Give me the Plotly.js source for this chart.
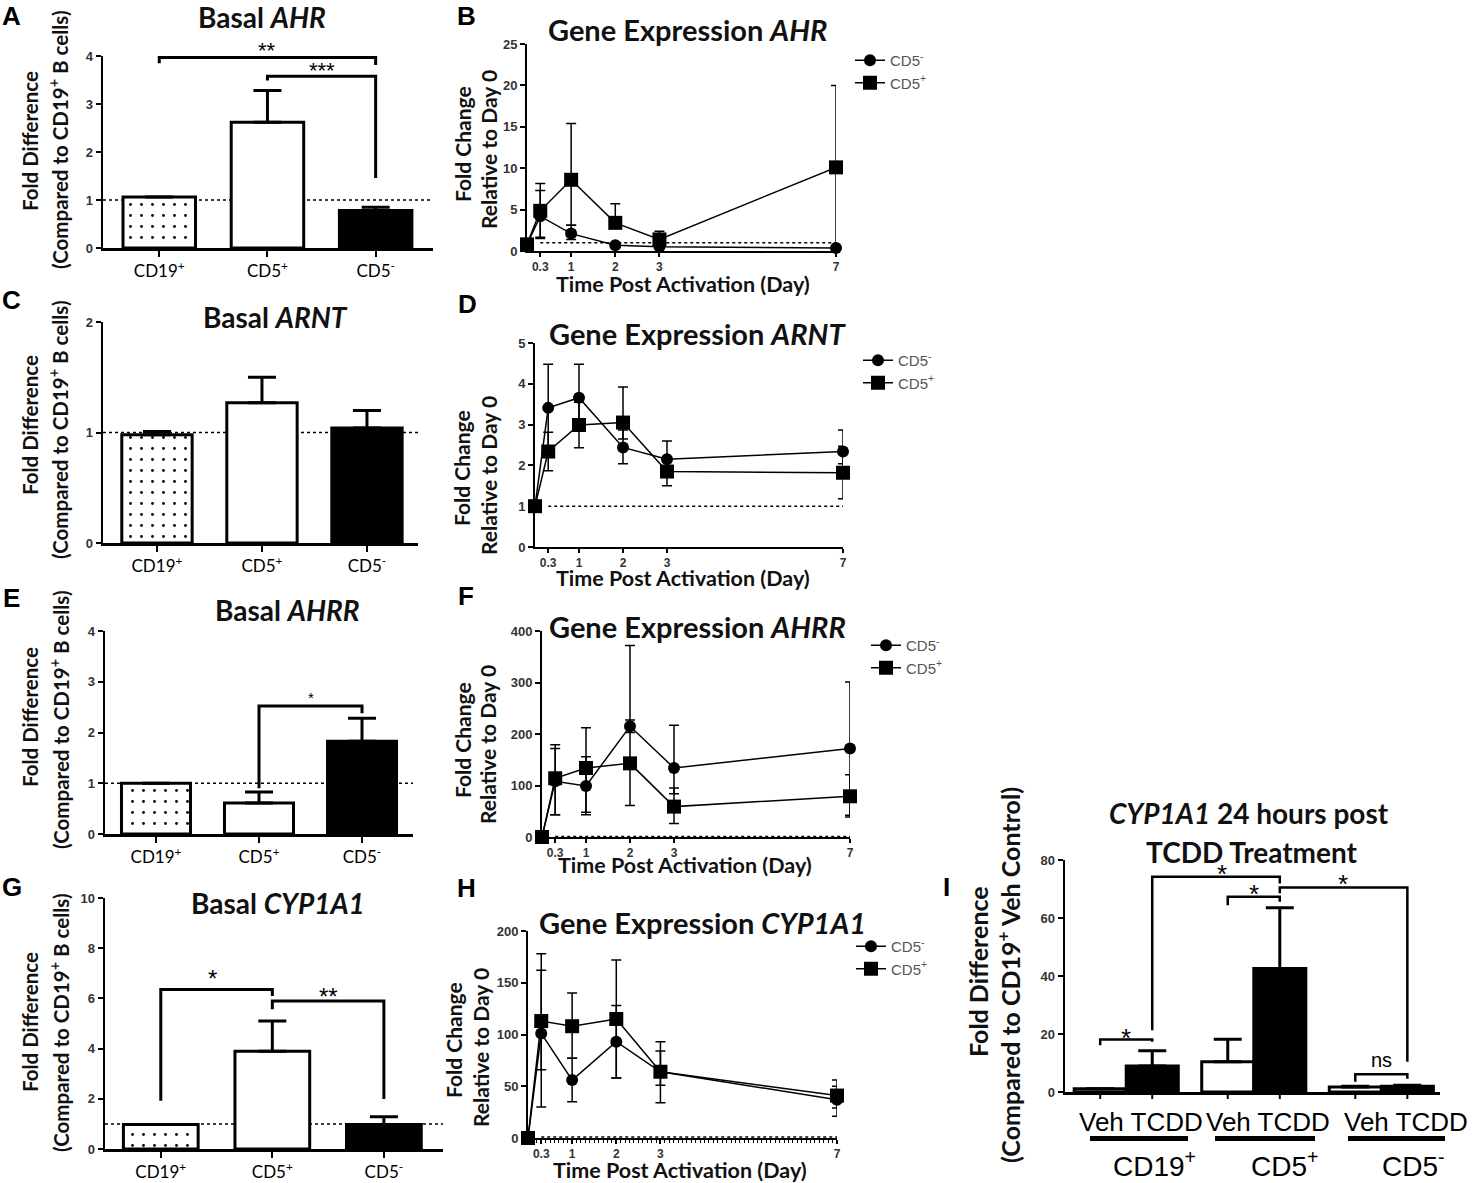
<!DOCTYPE html>
<html><head><meta charset="utf-8">
<script src="https://cdn.plot.ly/plotly-3.0.1.min.js"></script>
<style>html,body{margin:0;padding:0;background:#fff}#plot{width:1474px;height:1183px}</style>
</head><body><div id="plot"></div><script>
// ---------------- data ----------------
const barCats = ['CD19+', 'CD5+', 'CD5-'];
const barTickText = ['CD19<sup>+</sup>', 'CD5<sup>+</sup>', 'CD5<sup>-</sup>'];

const ahrBasal = [1.06, 2.62, 0.78];
const ahrBasalErr = [0, 0.66, 0.07];
const arntBasal = [0.98, 1.27, 1.04];
const arntBasalErr = [0.03, 0.23, 0.16];
const ahrrBasal = [1.0, 0.61, 1.83];
const ahrrBasalErr = [0, 0.22, 0.45];
const cypBasal = [0.98, 3.89, 0.98];
const cypBasalErr = [0, 1.21, 0.30];

const days = [0, 0.3, 1, 2, 3, 7];
const dayTicks = [0.3, 1, 2, 3, 7];

const ahrNeg = [0.8, 4.2, 2.1, 0.7, 0.5, 0.35];
const ahrNegUp = [0, 3.1, 1.0, 0, 0, 0];
const ahrNegDn = [0, 2.7, 0.7, 0, 0, 0];
const ahrPos = [0.8, 4.85, 8.6, 3.4, 1.4, 10.1];
const ahrPosUp = [0, 3.3, 6.8, 2.3, 1.0, 9.9];
const ahrPosDn = [0, 3.2, 5.5, 0, 0, 9.9];

const arntNeg = [1, 3.41, 3.66, 2.44, 2.15, 2.34];
const arntNegUp = [0, 1.07, 0.82, 0.43, 0.45, 0.53];
const arntNegDn = [0, 1.07, 0.82, 0.4, 0.3, 0.3];
const arntPos = [1, 2.34, 2.99, 3.05, 1.85, 1.82];
const arntPosUp = [0, 0.47, 0.56, 0.87, 0.35, 0.65];
const arntPosDn = [0, 0.47, 0.56, 0.4, 0.35, 0.64];

const ahrrNeg = [0, 108, 99, 215, 134, 172];
const ahrrNegUp = [0, 71, 57, 12, 83, 129];
const ahrrNegDn = [0, 65, 51, 12, 50, 130];
const ahrrPos = [0, 114, 134, 143, 59, 79];
const ahrrPosUp = [0, 58, 78, 229, 36, 42];
const ahrrPosDn = [0, 71, 91, 82, 33, 40];

const cypNeg = [0, 101, 56, 93, 64, 37];
const cypNegUp = [0, 61, 21, 35, 20, 13];
const cypNegDn = [0, 35, 21, 35, 13, 16];
const cypPos = [0, 113, 108, 115, 64, 41];
const cypPosUp = [0, 65, 32, 57, 29, 15];
const cypPosDn = [0, 83, 31, 57, 30, 12];

const tcddGroups = ['CD19+', 'CD5+', 'CD5-'];
const tcddGroupText = ['CD19<sup>+</sup>', 'CD5<sup>+</sup>', 'CD5<sup>-</sup>'];
const vehVals = [1.1, 10.4, 1.7];
const vehErr = [0, 7.8, 0.3];
const tcddVals = [9.0, 42.6, 2.0];
const tcddErr = [5.2, 20.9, 0.3];

// significance brackets: [x1, y1, x2, y2, ytop, label, labelX, labelY]
const sigA = [[0, 3.85, 2, 3.81, 3.97, '**', 1, 4.22], [1, 3.49, 2, 1.46, 3.58, '***', 1.5, 3.8]];
const sigE = [[1, 0.9, 2, 2.38, 2.52, '*', 1.5, 2.75]];
const sigG = [[0, 1.92, 1, 6.1, 6.35, '*', 0.46, 7.0], [1, 5.57, 2, 1.99, 5.9, '**', 1.5, 6.3]];
// for I: [group1, side1 (-1 Veh, +1 TCDD), y1, group2, side2, y2, ytop, label, labelX, labelY]
const sigI = [[0, -1, 16.1, 0, 1, 17.3, 18.1, '*', 0, 20.7],
              [0, 1, 21.3, 1, 1, 71.9, 74.2, '*', 0.75, 77],
              [1, -1, 64.4, 1, 1, 65.6, 67.3, '*', 1.0, 70.2],
              [1, 1, 68.5, 2, 1, 10.4, 70.5, '*', 1.7, 73.6],
              [2, -1, 3.5, 2, 1, 4.6, 6.1, 'ns', 2.0, 11]];

// ---------------- layout helpers ----------------
const W = 1474, H = 1183;
const px = x => x / W, py = y => 1 - y / H;
const P = {
  A: {n: 1, l: 103, r: 433, t: 56, b: 248, xr: [-0.52, 2.53], yr: [0, 4], dt: 1},
  B: {n: 2, l: 527, r: 836, t: 44, b: 251, xr: [0, 7], yr: [0, 25], dt: 5},
  C: {n: 3, l: 103, r: 418, t: 322, b: 543, xr: [-0.514, 2.486], yr: [0, 2], dt: 1},
  D: {n: 4, l: 535, r: 843, t: 343, b: 547, xr: [0, 7], yr: [0, 5], dt: 1},
  E: {n: 5, l: 105, r: 413, t: 631, b: 834, xr: [-0.495, 2.495], yr: [0, 4], dt: 1},
  F: {n: 6, l: 542, r: 850, t: 631, b: 837, xr: [0, 7], yr: [0, 400], dt: 100},
  G: {n: 7, l: 105, r: 443, t: 898, b: 1149, xr: [-0.50, 2.53], yr: [0, 10], dt: 2},
  H: {n: 8, l: 528, r: 837, t: 931, b: 1138, xr: [0, 7], yr: [0, 200], dt: 50},
  I: {n: 9, l: 1065, r: 1440, t: 860, b: 1092, xr: [-0.48, 2.46], yr: [0, 80], dt: 20}
};
const xid = p => p.n === 1 ? 'x' : 'x' + p.n;
const yid = p => p.n === 1 ? 'y' : 'y' + p.n;
const PX = (p, v) => px(p.l + (v - p.xr[0]) / (p.xr[1] - p.xr[0]) * (p.r - p.l));
const PY = (p, v) => py(p.b - (v - p.yr[0]) / (p.yr[1] - p.yr[0]) * (p.b - p.t));

const TITLE_FONT = 'Lato, "Open Sans", sans-serif';
const ARIAL = '"Liberation Sans", Arial, sans-serif';
const tickFont = {family: ARIAL, size: 12, color: '#333', weight: 'bold'};
const yTickFont = {family: ARIAL, size: 13, color: '#333', weight: 'bold'};

const layout = {
  width: W, height: H, margin: {l: 0, r: 0, t: 0, b: 0},
  paper_bgcolor: 'white', plot_bgcolor: 'rgba(0,0,0,0)',
  showlegend: true, barmode: 'overlay',
  shapes: [], annotations: []
};

function addAxes(p, bar) {
  const xk = p.n === 1 ? 'xaxis' : 'xaxis' + p.n;
  const yk = p.n === 1 ? 'yaxis' : 'yaxis' + p.n;
  const lw = bar ? 2.5 : 2;
  const x = {
    domain: [px(p.l), px(p.r)], anchor: yid(p), range: p.xr, showline: true,
    linecolor: 'black', linewidth: lw, ticks: 'outside', ticklen: bar ? 6 : 4, tickwidth: 2,
    tickcolor: 'black', showgrid: false, zeroline: false, fixedrange: true
  };
  if (bar === 'basal') {
    Object.assign(x, {type: 'category', categoryarray: barCats, categoryorder: 'array',
      tickvals: barCats, ticktext: barTickText,
      tickfont: {family: TITLE_FONT, size: 17, color: 'black'}});
  } else if (bar === 'group') {
    Object.assign(x, {type: 'category', ticks: '', showticklabels: false});
  } else {
    Object.assign(x, {type: 'linear', tickvals: dayTicks, ticktext: dayTicks.map(String),
      tickfont: tickFont, ticklabelstandoff: 0});
  }
  const y = {
    domain: [py(p.b), py(p.t)], anchor: xid(p), range: p.yr, dtick: p.dt, tick0: 0,
    showline: true, linecolor: 'black', linewidth: lw, ticks: 'outside', ticklen: 5,
    tickwidth: 2, tickcolor: 'black', showgrid: false, zeroline: false, fixedrange: true,
    tickfont: yTickFont
  };
  layout[xk] = x; layout[yk] = y;
}

// basal bars: the CD19+ bar is patterned (dotted), CD5+ white, CD5- black
function basalTraces(p, vals, errs) {
  const common = {type: 'bar', xaxis: xid(p), yaxis: yid(p), width: 0.67,
    showlegend: false, hoverinfo: 'skip'};
  const err = e => ({type: 'data', symmetric: false, array: e, arrayminus: e.map(() => 0),
    color: 'black', thickness: 3, width: 14});
  return [
    Object.assign({}, common, {x: barCats.slice(0, 1), y: vals.slice(0, 1),
      marker: {color: 'white', line: {color: 'black', width: 3},
        pattern: {shape: '.', fillmode: 'overlay', fgcolor: 'black', fgopacity: 1, size: 11, solidity: 0.05}},
      error_y: err(errs.slice(0, 1))}),
    Object.assign({}, common, {x: barCats.slice(1), y: vals.slice(1),
      marker: {color: ['white', 'black'], line: {color: 'black', width: 3}},
      error_y: err(errs.slice(1))})
  ];
}

function lineTrace(p, y, up, dn, sym, name, legend) {
  return {
    type: 'scatter', mode: 'lines+markers', x: days, y: y, xaxis: xid(p), yaxis: yid(p),
    name: name, legend: legend, legendgroup: name + legend,
    line: {color: 'black', width: 1.5},
    marker: {symbol: sym, size: sym === 'square' ? 14 : 12, color: 'black'},
    error_y: {type: 'data', symmetric: false, array: up, arrayminus: dn, color: 'black',
      thickness: 1.5, width: 5},
    cliponaxis: false, hoverinfo: 'skip'
  };
}

function ann(x, y, text, font, extra) {
  layout.annotations.push(Object.assign({xref: 'paper', yref: 'paper', x: px(x), y: py(y),
    text: text, showarrow: false, font: font, xanchor: 'center', yanchor: 'middle'}, extra || {}));
}
function dottedOne(p, x0, x1) {
  layout.shapes.push({type: 'line', xref: xid(p), yref: yid(p), x0: x0, x1: x1, y0: 1, y1: 1,
    line: {color: 'black', width: 1.5, dash: 'dot'}, layer: 'below'});
}
function bracketPath(p, x1, y1, x2, y2, yt, xv1, xv2, w) {
  const X1 = xv1 !== undefined ? xv1 : PX(p, x1), X2 = xv2 !== undefined ? xv2 : PX(p, x2);
  layout.shapes.push({type: 'path', xref: 'paper', yref: 'paper',
    path: `M ${X1},${PY(p, y1)} L ${X1},${PY(p, yt)} L ${X2},${PY(p, yt)} L ${X2},${PY(p, y2)}`,
    line: {color: 'black', width: w || 3}});
}
function sigLabel(p, xv, yv, txt, fs) {
  layout.annotations.push({xref: 'paper', yref: 'paper', x: PX(p, xv), y: PY(p, yv), text: txt,
    showarrow: false, xanchor: 'center', yanchor: 'middle',
    yshift: txt === 'ns' ? 0 : -0.22 * fs,
    font: {family: ARIAL, size: fs, color: 'black'}});
}

const traces = [];

// --- basal bar panels ---
[[P.A, ahrBasal, ahrBasalErr], [P.C, arntBasal, arntBasalErr],
 [P.E, ahrrBasal, ahrrBasalErr], [P.G, cypBasal, cypBasalErr]].forEach(([p, v, e]) => {
  addAxes(p, 'basal');
  traces.push(...basalTraces(p, v, e));
  layout.shapes.push({type: 'line', xref: xid(p) + ' domain', yref: yid(p), x0: 0, x1: 1, y0: 1, y1: 1,
    line: {color: 'black', width: 1.5, dash: 'dot'}, layer: 'below'});
});
[[P.A, sigA, 22], [P.E, sigE, 15], [P.G, sigG, 24]].forEach(([p, list, fs]) => {
  list.forEach(s => {
    bracketPath(p, s[0], s[1], s[2], s[3], s[4]);
    sigLabel(p, s[6], s[7], s[5], fs);
  });
});

// --- time course panels ---
[[P.B, ahrNeg, ahrNegUp, ahrNegDn, ahrPos, ahrPosUp, ahrPosDn, 'legend', 850, 44],
 [P.D, arntNeg, arntNegUp, arntNegDn, arntPos, arntPosUp, arntPosDn, 'legend2', 858, 344],
 [P.F, ahrrNeg, ahrrNegUp, ahrrNegDn, ahrrPos, ahrrPosUp, ahrrPosDn, 'legend3', 866, 629],
 [P.H, cypNeg, cypNegUp, cypNegDn, cypPos, cypPosUp, cypPosDn, 'legend4', 851, 930]
].forEach(([p, n, nu, nd, q, qu, qd, lg, lx, ly]) => {
  addAxes(p, null);
  traces.push(lineTrace(p, n, nu, nd, 'circle', 'CD5<sup>-</sup>', lg));
  traces.push(lineTrace(p, q, qu, qd, 'square', 'CD5<sup>+</sup>', lg));
  dottedOne(p, 0.3, 7);
  layout[lg] = {x: px(lx), y: py(ly), xanchor: 'left', yanchor: 'top', bgcolor: 'rgba(0,0,0,0)',
    font: {family: ARIAL, size: 15, color: '#555'}, itemwidth: 30, tracegroupgap: 0,
    traceorder: 'grouped'};
});
layout.xaxis8.minor = {dtick: 0.1, ticklen: 3, tickwidth: 1, tickcolor: 'black', ticks: 'outside'};

// --- panel I ---
addAxes(P.I, 'group');
const halfW = 0.408;
traces.push({type: 'bar', x: tcddGroups, y: vehVals, xaxis: 'x9', yaxis: 'y9', offset: -halfW, width: halfW,
  marker: {color: 'white', line: {color: 'black', width: 3}},
  error_y: {type: 'data', symmetric: false, array: vehErr, arrayminus: vehErr.map(() => 0),
    color: 'black', thickness: 3, width: 14}, showlegend: false, hoverinfo: 'skip'});
traces.push({type: 'bar', x: tcddGroups, y: tcddVals, xaxis: 'x9', yaxis: 'y9', offset: 0, width: halfW,
  marker: {color: 'black', line: {color: 'black', width: 3}},
  error_y: {type: 'data', symmetric: false, array: tcddErr, arrayminus: tcddErr.map(() => 0),
    color: 'black', thickness: 3, width: 14}, showlegend: false, hoverinfo: 'skip'});
const side = s => s * halfW / 2;
tcddGroups.forEach((g, i) => {
  [-1, 1].forEach(s => {
    const X = PX(P.I, i + side(s));
    layout.shapes.push({type: 'line', xref: 'paper', yref: 'paper', x0: X, x1: X,
      y0: PY(P.I, 0), y1: py(P.I.b + 7), line: {color: 'black', width: 2}});
  });
});
sigI.forEach(s => {
  bracketPath(P.I, 0, s[2], 0, s[5], s[6], PX(P.I, s[0] + side(s[1])), PX(P.I, s[3] + side(s[4])), 2.5);
  sigLabel(P.I, s[8], s[9], s[7], s[7] === 'ns' ? 20 : 26);
});
// group labels under panel I
const vehTxtX = [1141, 1268, 1406], grpTxtX = [1154, 1284, 1413];
const underline = [[1090, 1188], [1215, 1315], [1348, 1445]];
tcddGroups.forEach((g, i) => {
  ann(vehTxtX[i], 1122, 'Veh TCDD', {family: ARIAL, size: 26, color: 'black'});
  layout.shapes.push({type: 'rect', xref: 'paper', yref: 'paper', x0: px(underline[i][0]),
    x1: px(underline[i][1]), y0: py(1141), y1: py(1136), fillcolor: 'black', line: {width: 0}});
  ann(grpTxtX[i], 1164, tcddGroupText[i], {family: ARIAL, size: 28, color: 'black'});
});

// --- titles ---
const tf = s => ({family: TITLE_FONT, size: s, color: '#111'});
ann(262, 17, '<b>Basal <i>AHR</i></b>', tf(28));
ann(275, 317, '<b>Basal <i>ARNT</i></b>', tf(28));
ann(287, 610, '<b>Basal <i>AHRR</i></b>', tf(28));
ann(278, 903, '<b>Basal <i>CYP1A1</i></b>', tf(28));
ann(687, 30, '<b>Gene Expression <i>AHR</i></b>', tf(29));
ann(697, 333, '<b>Gene Expression <i>ARNT</i></b>', tf(29));
ann(697, 626, '<b>Gene Expression <i>AHRR</i></b>', tf(29));
ann(702, 922, '<b>Gene Expression <i>CYP1A1</i></b>', tf(29));
ann(1249, 813, '<b><i>CYP1A1</i> 24 hours post</b>', tf(28));
ann(1252, 852, '<b>TCDD Treatment</b>', tf(28));

// --- axis titles ---
const yt = {textangle: -90};
const ytf = tf(20.5);
[[141, 140], [425, 430], [717, 720], [1022, 1023]].forEach(([a, b]) => {
  ann(30, a, '<b>Fold Difference</b>', ytf, yt);
  ann(59, b, '<b>(Compared to CD19<sup>+</sup> B cells)</b>', ytf, yt);
});
[[462, 144, 488, 150], [462, 468, 488, 476], [462, 740, 488, 745], [453, 1040, 480, 1048]].forEach(([x1, a, x2, b]) => {
  ann(x1, a, '<b>Fold Change</b>', tf(21), yt);
  ann(x2, b, '<b>Relative to Day 0</b>', tf(21), yt);
});
ann(978, 972, '<b>Fold Difference</b>', tf(25), yt);
ann(1008, 975, '<b>(Compared to CD19<sup>+</sup> Veh Control)</b>', tf(25), yt);
[[683, 284], [683, 578], [685, 865], [680, 1170]].forEach(([x, y]) => {
  ann(x, y, '<b>Time Post Activation (Day)</b>', tf(21.5));
});

// --- panel letters ---
const lf = {family: ARIAL, size: 26, color: 'black'};
[['A', 11, 16], ['B', 466, 16], ['C', 12, 300], ['D', 467, 304], ['E', 12, 598],
 ['F', 466, 596], ['G', 12, 887], ['H', 466, 888], ['I', 946, 887]].forEach(([t, x, y]) => {
  ann(x, y, '<b>' + t + '</b>', lf);
});

Plotly.newPlot('plot', traces, layout, {staticPlot: true, displayModeBar: false});
</script></body></html>
